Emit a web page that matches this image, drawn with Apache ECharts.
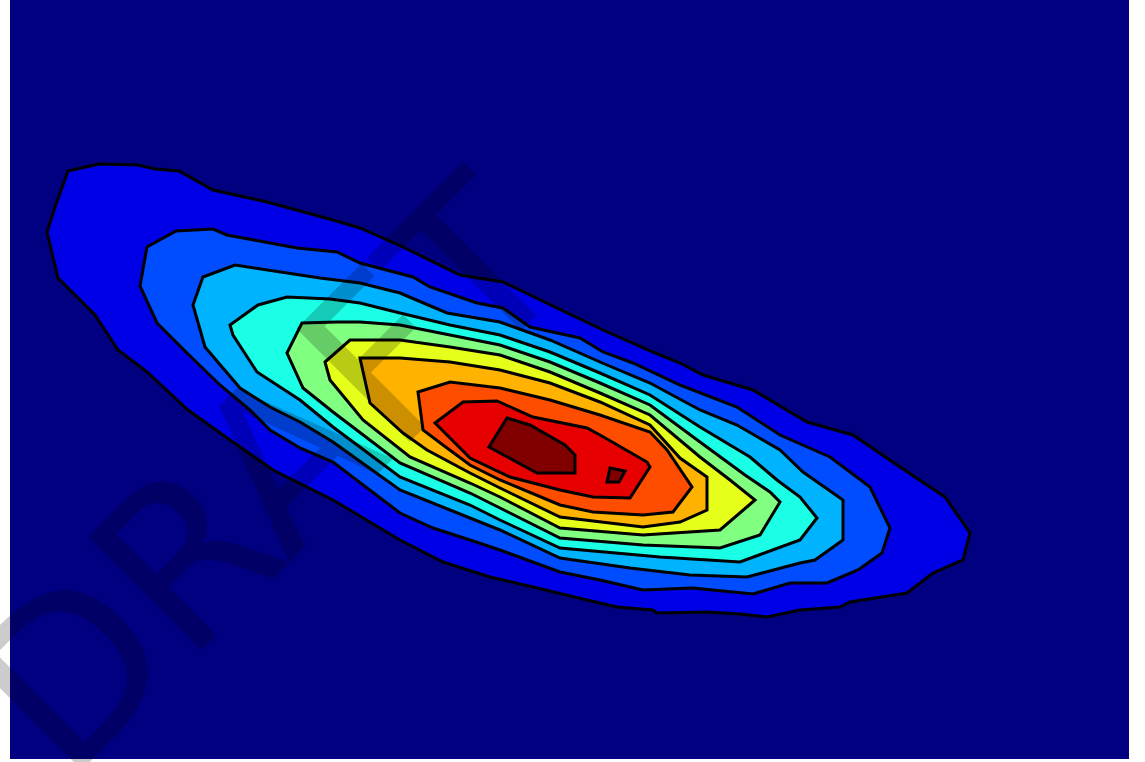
<!DOCTYPE html>
<html>
<head>
<meta charset="utf-8">
<title>Contour</title>
<script src="https://cdn.jsdelivr.net/npm/echarts@6/dist/echarts.min.js"></script>
<style>
  html, body { margin: 0; padding: 0; background: #fff; }
  #chart { width: 1145px; height: 762px; }
</style>
</head>
<body>
<div id="chart"></div>
<script>
// filled contour bands, outermost first; each is a closed ring of [x, y]
var level1 = [[0.58,5.88],[0.89,5.95],[1.28,5.94],[1.45,5.90],[1.69,5.88],[2.03,5.69],[2.57,5.57],[3.23,5.39],[3.50,5.31],[3.93,5.12],[4.50,4.84],[4.93,4.77],[5.47,4.51],[5.93,4.29],[6.43,4.07],[6.70,3.96],[6.93,3.84],[7.43,3.69],[7.97,3.37],[8.43,3.24],[8.90,2.92],[9.35,2.62],[9.60,2.26],[9.53,1.99],[9.23,1.86],[8.97,1.66],[8.40,1.57],[8.30,1.52],[7.90,1.49],[7.57,1.42],[7.30,1.45],[6.97,1.47],[6.47,1.46],[6.43,1.49],[6.07,1.52],[5.77,1.59],[5.23,1.72],[4.80,1.82],[4.33,1.97],[3.90,2.19],[3.23,2.59],[2.63,2.89],[2.20,3.19],[1.78,3.49],[1.37,3.87],[1.08,4.09],[0.85,4.44],[0.48,4.81],[0.37,5.27],[0.45,5.52]];
var level2 = [[1.37,5.12],[1.66,5.28],[2.03,5.30],[2.17,5.24],[2.87,5.11],[3.27,5.07],[3.50,4.96],[4.03,4.82],[4.20,4.72],[4.67,4.56],[4.93,4.51],[5.20,4.32],[5.70,4.21],[5.93,4.07],[6.23,3.96],[6.70,3.74],[7.27,3.52],[7.70,3.24],[8.20,3.02],[8.60,2.72],[8.80,2.31],[8.72,2.06],[8.48,1.89],[8.17,1.76],[7.80,1.76],[7.43,1.65],[6.83,1.71],[6.33,1.69],[5.90,1.79],[5.50,1.87],[4.90,2.09],[4.60,2.19],[4.23,2.31],[3.90,2.46],[3.23,2.97],[2.90,3.11],[2.60,3.29],[2.40,3.49],[2.10,3.74],[1.77,4.06],[1.47,4.36],[1.30,4.73]];
var level3 = [[1.83,4.54],[1.93,4.82],[2.25,4.94],[3.10,4.81],[3.50,4.76],[3.90,4.66],[4.37,4.46],[4.90,4.37],[5.40,4.19],[5.90,3.97],[6.40,3.76],[6.90,3.49],[7.27,3.34],[7.70,3.09],[7.93,2.87],[8.33,2.59],[8.33,2.19],[8.05,1.99],[7.90,1.96],[7.37,1.82],[6.80,1.84],[6.20,1.91],[5.50,2.01],[4.90,2.29],[4.60,2.41],[3.90,2.69],[3.23,3.17],[2.90,3.37],[2.60,3.52],[2.30,3.71],[1.95,4.12]];
var level4 = [[2.20,4.34],[2.48,4.54],[2.77,4.62],[3.20,4.60],[3.50,4.56],[3.90,4.46],[4.40,4.34],[4.90,4.24],[5.40,4.07],[5.90,3.86],[6.40,3.64],[6.90,3.32],[7.40,3.02],[7.67,2.79],[7.90,2.62],[8.07,2.41],[7.90,2.19],[7.30,1.97],[6.50,2.02],[5.50,2.11],[4.90,2.39],[4.60,2.54],[3.90,2.82],[3.23,3.32],[2.90,3.59],[2.47,3.87],[2.23,4.24]];
var level5 = [[2.77,4.06],[2.92,4.36],[3.27,4.37],[3.50,4.37],[3.90,4.34],[4.40,4.24],[4.90,4.14],[5.40,3.97],[5.90,3.76],[6.40,3.54],[6.90,3.17],[7.35,2.84],[7.60,2.67],[7.70,2.57],[7.50,2.24],[7.10,2.11],[6.33,2.14],[5.50,2.21],[4.90,2.51],[4.60,2.66],[3.90,2.96],[3.23,3.47],[2.93,3.71]];
var level6 = [[3.15,3.97],[3.40,4.19],[3.90,4.19],[4.40,4.12],[4.90,4.04],[5.40,3.87],[5.90,3.66],[6.40,3.44],[6.90,3.02],[7.20,2.79],[7.45,2.59],[7.10,2.29],[6.33,2.24],[5.50,2.31],[4.90,2.62],[4.60,2.76],[4.00,3.02],[3.53,3.39],[3.20,3.79]];
var level7 = [[3.50,4.01],[3.90,4.01],[4.40,3.97],[4.90,3.89],[5.40,3.76],[5.90,3.57],[6.40,3.34],[6.70,3.01],[6.97,2.82],[6.97,2.49],[6.70,2.37],[6.33,2.32],[5.50,2.42],[4.90,2.71],[4.60,2.86],[4.17,3.09],[3.93,3.26],[3.60,3.56]];
var level8 = [[4.08,3.67],[4.40,3.77],[4.90,3.71],[5.40,3.59],[5.90,3.44],[6.40,3.27],[6.57,3.09],[6.82,2.72],[6.63,2.47],[6.33,2.44],[5.83,2.47],[5.50,2.54],[4.90,2.79],[4.60,2.94],[4.37,3.11],[4.13,3.29]];
var level9 = [[4.25,3.36],[4.53,3.57],[4.87,3.58],[5.23,3.42],[5.77,3.31],[5.90,3.24],[6.37,2.97],[6.40,2.92],[6.20,2.61],[5.83,2.62],[5.50,2.69],[5.00,2.82],[4.60,3.01]];
var level10a = [[4.97,3.41],[5.20,3.34],[5.55,3.14],[5.65,3.04],[5.65,2.86],[5.27,2.86],[4.79,3.12]];
var level10b = [[6.00,2.91],[6.15,2.88],[6.09,2.77],[5.97,2.77]];

var contours = [level1, level2, level3, level4, level5, level6, level7, level8, level9, level10a, level10b];
var contourLevel = [1, 2, 3, 4, 5, 6, 7, 8, 9, 10, 10];

// jet colormap, one colour per level (0 = background)
var jet = ['#000080', '#0000e6', '#004dff', '#00b3ff', '#1affe6', '#80ff80',
           '#e6ff1a', '#ffb300', '#ff4d00', '#e60000', '#800000'];

var chart = echarts.init(document.getElementById('chart'));

chart.setOption({
  backgroundColor: '#ffffff',
  animation: false,
  grid: {
    left: 10,
    top: 0,
    width: 1119,
    height: 759,
    show: true,
    backgroundColor: jet[0],
    borderWidth: 0
  },
  xAxis: { type: 'value', min: 0, max: 11.19, show: false },
  yAxis: { type: 'value', min: 0, max: 7.59, show: false },
  series: [{
    type: 'custom',
    coordinateSystem: 'cartesian2d',
    data: contours.map(function (c, i) { return [i]; }),
    renderItem: function (params, api) {
      var idx = api.value(0);
      var pts = contours[idx].map(function (p) { return api.coord(p); });
      return {
        type: 'polygon',
        shape: { points: pts },
        style: {
          fill: jet[contourLevel[idx]],
          stroke: '#000',
          lineWidth: 3
        }
      };
    }
  }],
  // watermark
  graphic: [{
    type: 'text',
    x: 281,
    y: 490,
    rotation: Math.PI / 4,
    z: 100,
    style: {
      text: 'DRAFT',
      fontSize: 220,
      fontFamily: 'DejaVu Sans',
      fill: 'rgba(0,0,0,0.2)',
      align: 'center',
      verticalAlign: 'middle'
    }
  }]
});
</script>
</body>
</html>
